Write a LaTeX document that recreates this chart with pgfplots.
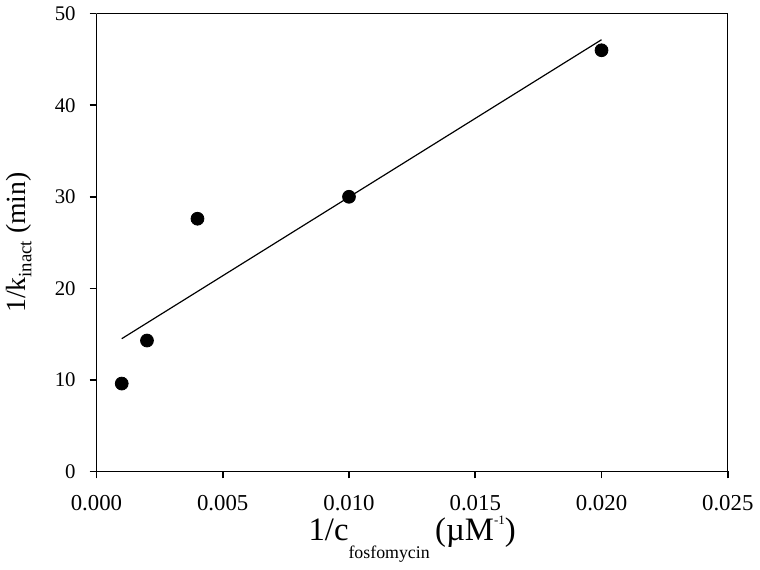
\documentclass[border=0pt]{standalone}
\usepackage{fontspec}
\setmainfont{Liberation Serif}
\usepackage{pgfplots}
\pgfplotsset{compat=1.18}

\begin{document}
\begin{tikzpicture}
\begin{axis}[
    scale only axis,
    width=318.5pt,
    height=231pt,
    xmin=0, xmax=0.025,
    ymin=0, ymax=50,
    xtick={0,0.005,0.01,0.015,0.02,0.025},
    ytick={0,10,20,30,40,50},
    axis x line*=bottom,
    axis y line*=left,
    tick align=outside,
    major tick length=3.5pt,
    axis line style={line width=0.8pt},
    tick style={line width=0.8pt, black},
    /pgf/number format/assume math mode=true,
    x tick label style={font=\fontsize{11.5}{11.5}\selectfont, yshift=-5pt,
        /pgf/number format/fixed, /pgf/number format/fixed zerofill,
        /pgf/number format/precision=3},
    y tick label style={font=\fontsize{10.5}{10.5}\selectfont, xshift=-3.5pt},
    scaled x ticks=false,
    xlabel={\fontsize{16.5}{16.5}\selectfont 1/c\raisebox{-0.55em}{\fontsize{9}{9}\selectfont fosfomycin}\,(µM\raisebox{0.5em}{\fontsize{6.5}{6.5}\selectfont -1})},
    ylabel={\fontsize{14}{14}\selectfont 1/k\raisebox{-0.2em}{\fontsize{9.5}{9.5}\selectfont inact} (min)},
    xlabel style={at={(axis description cs:0.5,0)}, anchor=base, yshift=-35pt},
    ylabel style={at={(axis description cs:0,0.5)}, anchor=center, rotate=0, yshift=39pt},
]
% surrounding box
\draw[line width=0.8pt] (axis description cs:0,1) -- (axis description cs:1,1) -- (axis description cs:1,0);
% fitted line
\addplot[black, line width=0.6pt, no marks] coordinates {
    (0.001, 14.5) (0.020, 47.15)
};
% data
\addplot[only marks, mark=*, mark size=3.25pt, black] coordinates {
    (0.001, 9.6) (0.002, 14.3) (0.004, 27.6) (0.010, 30.0) (0.020, 46.0)
};
\end{axis}
\end{tikzpicture}
\end{document}
